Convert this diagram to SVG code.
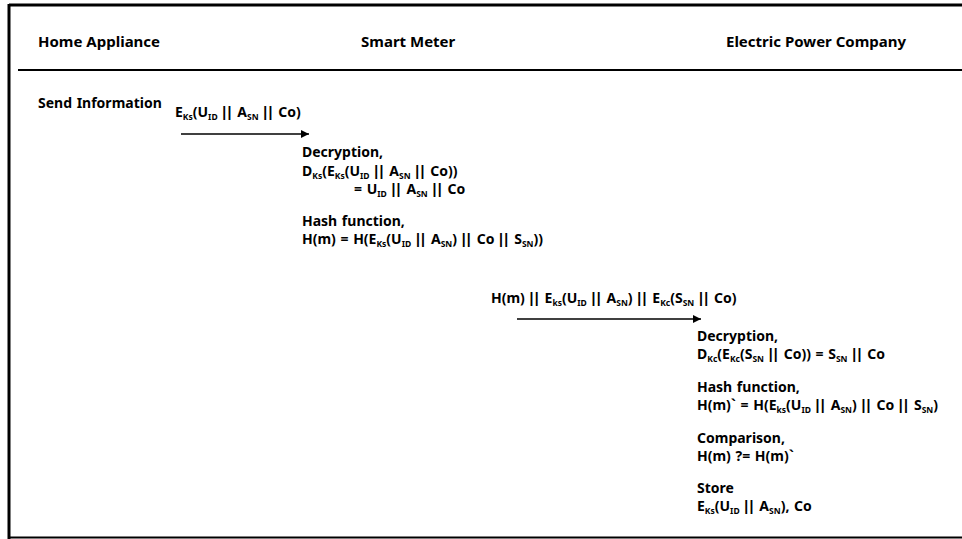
<svg xmlns="http://www.w3.org/2000/svg" width="962" height="539" viewBox="0 0 962 539">
<style>
text{font-family:"Noto Sans","Open Sans","Liberation Sans",sans-serif;font-weight:bold;font-size:14px;fill:#000;word-spacing:1px}
.h{font-size:15px;word-spacing:0}
.s{font-size:8.5px}
.p{font-family:"Liberation Sans",Arial,sans-serif;letter-spacing:1.3px}
.frame{stroke:#000;fill:none}
.arrow{stroke:#000;stroke-width:1.5;fill:none;marker-end:url(#ah)}
</style>
<defs>
<marker id="ah" viewBox="0 0 10 10" refX="10" refY="5" markerWidth="8" markerHeight="8" markerUnits="userSpaceOnUse" orient="auto"><path d="M0,0 L10,5 L0,10 z" fill="#000"/></marker>
</defs>
<rect width="962" height="539" fill="#fff"/>
<g id="frame">
<line class="frame" x1="9" y1="5" x2="962" y2="5" stroke-width="3"/>
<line class="frame" x1="9" y1="4" x2="9" y2="539" stroke-width="3"/>
<line class="frame" x1="18" y1="70" x2="962" y2="70" stroke-width="2"/>
<line class="frame" x1="9" y1="537.5" x2="962" y2="537.5" stroke-width="2"/>
</g>
<g id="headers">
<text class="h" x="38" y="47">Home Appliance</text>
<text class="h" x="361" y="47">Smart Meter</text>
<text class="h" x="726" y="47">Electric Power Company</text>
</g>
<g id="home-appliance">
<text x="38" y="108">Send Information</text>
</g>
<g id="smart-meter">
<text x="302" y="157">Decryption,</text>
<text x="302" y="176">D<tspan class="s" dy="2.5">Ks</tspan><tspan dy="-2.5">(E</tspan><tspan class="s" dy="2.5">Ks</tspan><tspan dy="-2.5">(U</tspan><tspan class="s" dy="2.5">ID</tspan><tspan dy="-2.5"> <tspan class="p">||</tspan> A</tspan><tspan class="s" dy="2.5">SN</tspan><tspan dy="-2.5"> <tspan class="p">||</tspan> Co))</tspan></text>
<text x="354" y="194">= U<tspan class="s" dy="2.5">ID</tspan><tspan dy="-2.5"> <tspan class="p">||</tspan> A</tspan><tspan class="s" dy="2.5">SN</tspan><tspan dy="-2.5"> <tspan class="p">||</tspan> Co</tspan></text>
<text x="302" y="226">Hash function,</text>
<text x="302" y="244">H(m) = H(E<tspan class="s" dy="2.5">Ks</tspan><tspan dy="-2.5">(U</tspan><tspan class="s" dy="2.5">ID</tspan><tspan dy="-2.5"> <tspan class="p">||</tspan> A</tspan><tspan class="s" dy="2.5">SN</tspan><tspan dy="-2.5">) <tspan class="p">||</tspan> Co <tspan class="p">||</tspan> S</tspan><tspan class="s" dy="2.5">SN</tspan><tspan dy="-2.5">))</tspan></text>
</g>
<g id="electric-power-company">
<text x="697" y="341">Decryption,</text>
<text x="697" y="359">D<tspan class="s" dy="2.5">Kc</tspan><tspan dy="-2.5">(E</tspan><tspan class="s" dy="2.5">Kc</tspan><tspan dy="-2.5">(S</tspan><tspan class="s" dy="2.5">SN</tspan><tspan dy="-2.5"> <tspan class="p">||</tspan> Co)) = S</tspan><tspan class="s" dy="2.5">SN</tspan><tspan dy="-2.5"> <tspan class="p">||</tspan> Co</tspan></text>
<text x="697" y="392">Hash function,</text>
<text x="697" y="410">H(m)` = H(E<tspan class="s" dy="2.5">ks</tspan><tspan dy="-2.5">(U</tspan><tspan class="s" dy="2.5">ID</tspan><tspan dy="-2.5"> <tspan class="p">||</tspan> A</tspan><tspan class="s" dy="2.5">SN</tspan><tspan dy="-2.5">) <tspan class="p">||</tspan> Co <tspan class="p">||</tspan> S</tspan><tspan class="s" dy="2.5">SN</tspan><tspan dy="-2.5">)</tspan></text>
<text x="697" y="443">Comparison,</text>
<text x="697" y="461">H(m) ?= H(m)`</text>
<text x="697" y="493">Store</text>
<text x="697" y="511">E<tspan class="s" dy="2.5">Ks</tspan><tspan dy="-2.5">(U</tspan><tspan class="s" dy="2.5">ID</tspan><tspan dy="-2.5"> <tspan class="p">||</tspan> A</tspan><tspan class="s" dy="2.5">SN</tspan><tspan dy="-2.5">),  Co</tspan></text>
</g>
<g id="connectors">
<line class="arrow" x1="181" y1="134" x2="309" y2="134"/>
<text x="175" y="117">E<tspan class="s" dy="2.5">Ks</tspan><tspan dy="-2.5">(U</tspan><tspan class="s" dy="2.5">ID</tspan><tspan dy="-2.5"> <tspan class="p">||</tspan> A</tspan><tspan class="s" dy="2.5">SN</tspan><tspan dy="-2.5"> <tspan class="p">||</tspan> Co)</tspan></text>
<line class="arrow" x1="517" y1="319" x2="701" y2="319"/>
<text x="491" y="303">H(m) <tspan class="p">||</tspan> E<tspan class="s" dy="2.5">ks</tspan><tspan dy="-2.5">(U</tspan><tspan class="s" dy="2.5">ID</tspan><tspan dy="-2.5"> <tspan class="p">||</tspan> A</tspan><tspan class="s" dy="2.5">SN</tspan><tspan dy="-2.5">) <tspan class="p">||</tspan> E</tspan><tspan class="s" dy="2.5">Kc</tspan><tspan dy="-2.5">(S</tspan><tspan class="s" dy="2.5">SN</tspan><tspan dy="-2.5"> <tspan class="p">||</tspan> Co)</tspan></text>
</g>
</svg>
